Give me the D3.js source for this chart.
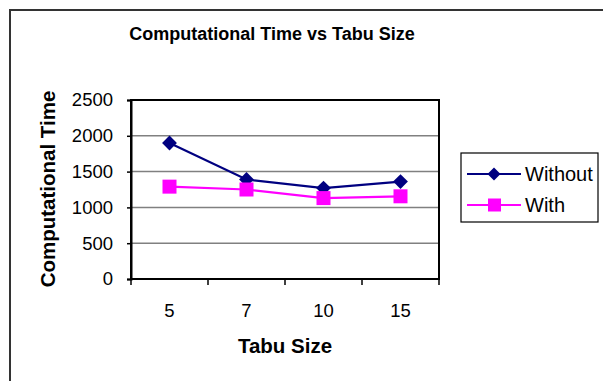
<!DOCTYPE html>
<html><head><meta charset="utf-8">
<script src="https://cdn.jsdelivr.net/npm/d3@7"></script>
<style>body{margin:0;background:#fff}svg{display:block;font-family:"Liberation Sans",Arial,sans-serif}</style>
</head><body><svg id="c" width="603" height="381"></svg>
<script>
const categories = ["5","7","10","15"];
const withoutValues = [1900, 1390, 1270, 1360];
const withValues = [1290, 1250, 1130, 1155];
const yTicks = [0,500,1000,1500,2000,2500];
const seriesNames = ["Without","With"];
const seriesColors = ["#000080","#FF00FF"];

const svg = d3.select("#c");
// outer chart border
svg.append("path").attr("d","M10,381 V10 H603").attr("fill","none").attr("stroke","#333").attr("stroke-width",2);

const L=131,R=439,T=100,B=279;
const x = d3.scaleBand().domain(categories).range([L,R]);
const y = d3.scaleLinear().domain([0,2500]).range([B,T]);

// gridlines
svg.append("g").selectAll("line").data(yTicks).join("line")
  .attr("x1",L).attr("x2",R).attr("y1",d=>y(d)).attr("y2",d=>y(d))
  .attr("stroke","#808080").attr("stroke-width",1.5);

// plot border
svg.append("rect").attr("x",L).attr("y",T).attr("width",R-L).attr("height",B-T)
  .attr("fill","none").attr("stroke","#000").attr("stroke-width",2);

// y axis
const ya = svg.append("g").attr("transform",`translate(${L},0)`)
  .call(d3.axisLeft(y).tickValues(yTicks).tickFormat(d3.format("d")).tickSize(4).tickPadding(14));
ya.select(".domain").attr("stroke","#000").attr("stroke-width",2);
ya.selectAll("line").attr("stroke","#000").attr("stroke-width",1.5);
ya.selectAll("text").attr("font-size",18.5).attr("fill","#000").attr("font-family","Liberation Sans, Arial, sans-serif");

// x axis ticks at category boundaries
const bounds = categories.map(c=>x(c)).concat([R]);
svg.append("g").selectAll("line").data(bounds).join("line")
  .attr("x1",d=>d).attr("x2",d=>d).attr("y1",B).attr("y2",B+6)
  .attr("stroke","#000").attr("stroke-width",1.5);
svg.append("g").selectAll("text").data(categories).join("text")
  .attr("x",d=>x(d)+x.bandwidth()/2).attr("y",317).attr("text-anchor","middle")
  .attr("font-size",18.5).text(d=>d);

// titles
svg.append("text").attr("x",272).attr("y",40).attr("text-anchor","middle")
  .attr("font-size",18).attr("font-weight","bold").text("Computational Time vs Tabu Size");
svg.append("text").attr("x",(L+R)/2).attr("y",353).attr("text-anchor","middle")
  .attr("font-size",20.5).attr("font-weight","bold").text("Tabu Size");
svg.append("text").attr("transform",`translate(55,189) rotate(-90)`).attr("text-anchor","middle")
  .attr("font-size",20.5).attr("font-weight","bold").text("Computational Time");

// series
const cx = d=>x(d)+x.bandwidth()/2;
const line = d3.line().x(d=>cx(d[0])).y(d=>y(d[1]));
const series = [withoutValues, withValues];
series.forEach((vals,i)=>{
  const pts = categories.map((c,j)=>[c,vals[j]]);
  svg.append("path").attr("d",line(pts)).attr("fill","none").attr("stroke",seriesColors[i]).attr("stroke-width",2.2);
});
// markers
svg.append("g").selectAll("path").data(categories.map((c,j)=>[c,withoutValues[j]])).join("path")
  .attr("transform",d=>`translate(${cx(d[0])},${y(d[1])}) rotate(45)`)
  .attr("d",d3.symbol().type(d3.symbolSquare).size(110)()).attr("fill",seriesColors[0]);
svg.append("g").selectAll("rect").data(categories.map((c,j)=>[c,withValues[j]])).join("rect")
  .attr("x",d=>cx(d[0])-7).attr("y",d=>y(d[1])-7).attr("width",14).attr("height",14)
  .attr("fill",seriesColors[1]);

// legend
const lg = svg.append("g");
lg.append("rect").attr("x",461).attr("y",153).attr("width",137).attr("height",69)
  .attr("fill","#fff").attr("stroke","#000").attr("stroke-width",1.2);
const ly=[174,205];
seriesNames.forEach((n,i)=>{
  lg.append("line").attr("x1",467).attr("x2",521).attr("y1",ly[i]).attr("y2",ly[i]).attr("stroke",seriesColors[i]).attr("stroke-width",2.2);
  if(i===0){
    lg.append("path").attr("transform",`translate(494,${ly[i]}) rotate(45)`).attr("d",d3.symbol().type(d3.symbolSquare).size(85)()).attr("fill",seriesColors[i]);
  } else {
    lg.append("rect").attr("x",488).attr("y",ly[i]-6.5).attr("width",13).attr("height",13).attr("fill",seriesColors[i]);
  }
  lg.append("text").attr("x",525).attr("y",ly[i]+7).attr("font-size",20).text(n);
});
</script></body></html>
